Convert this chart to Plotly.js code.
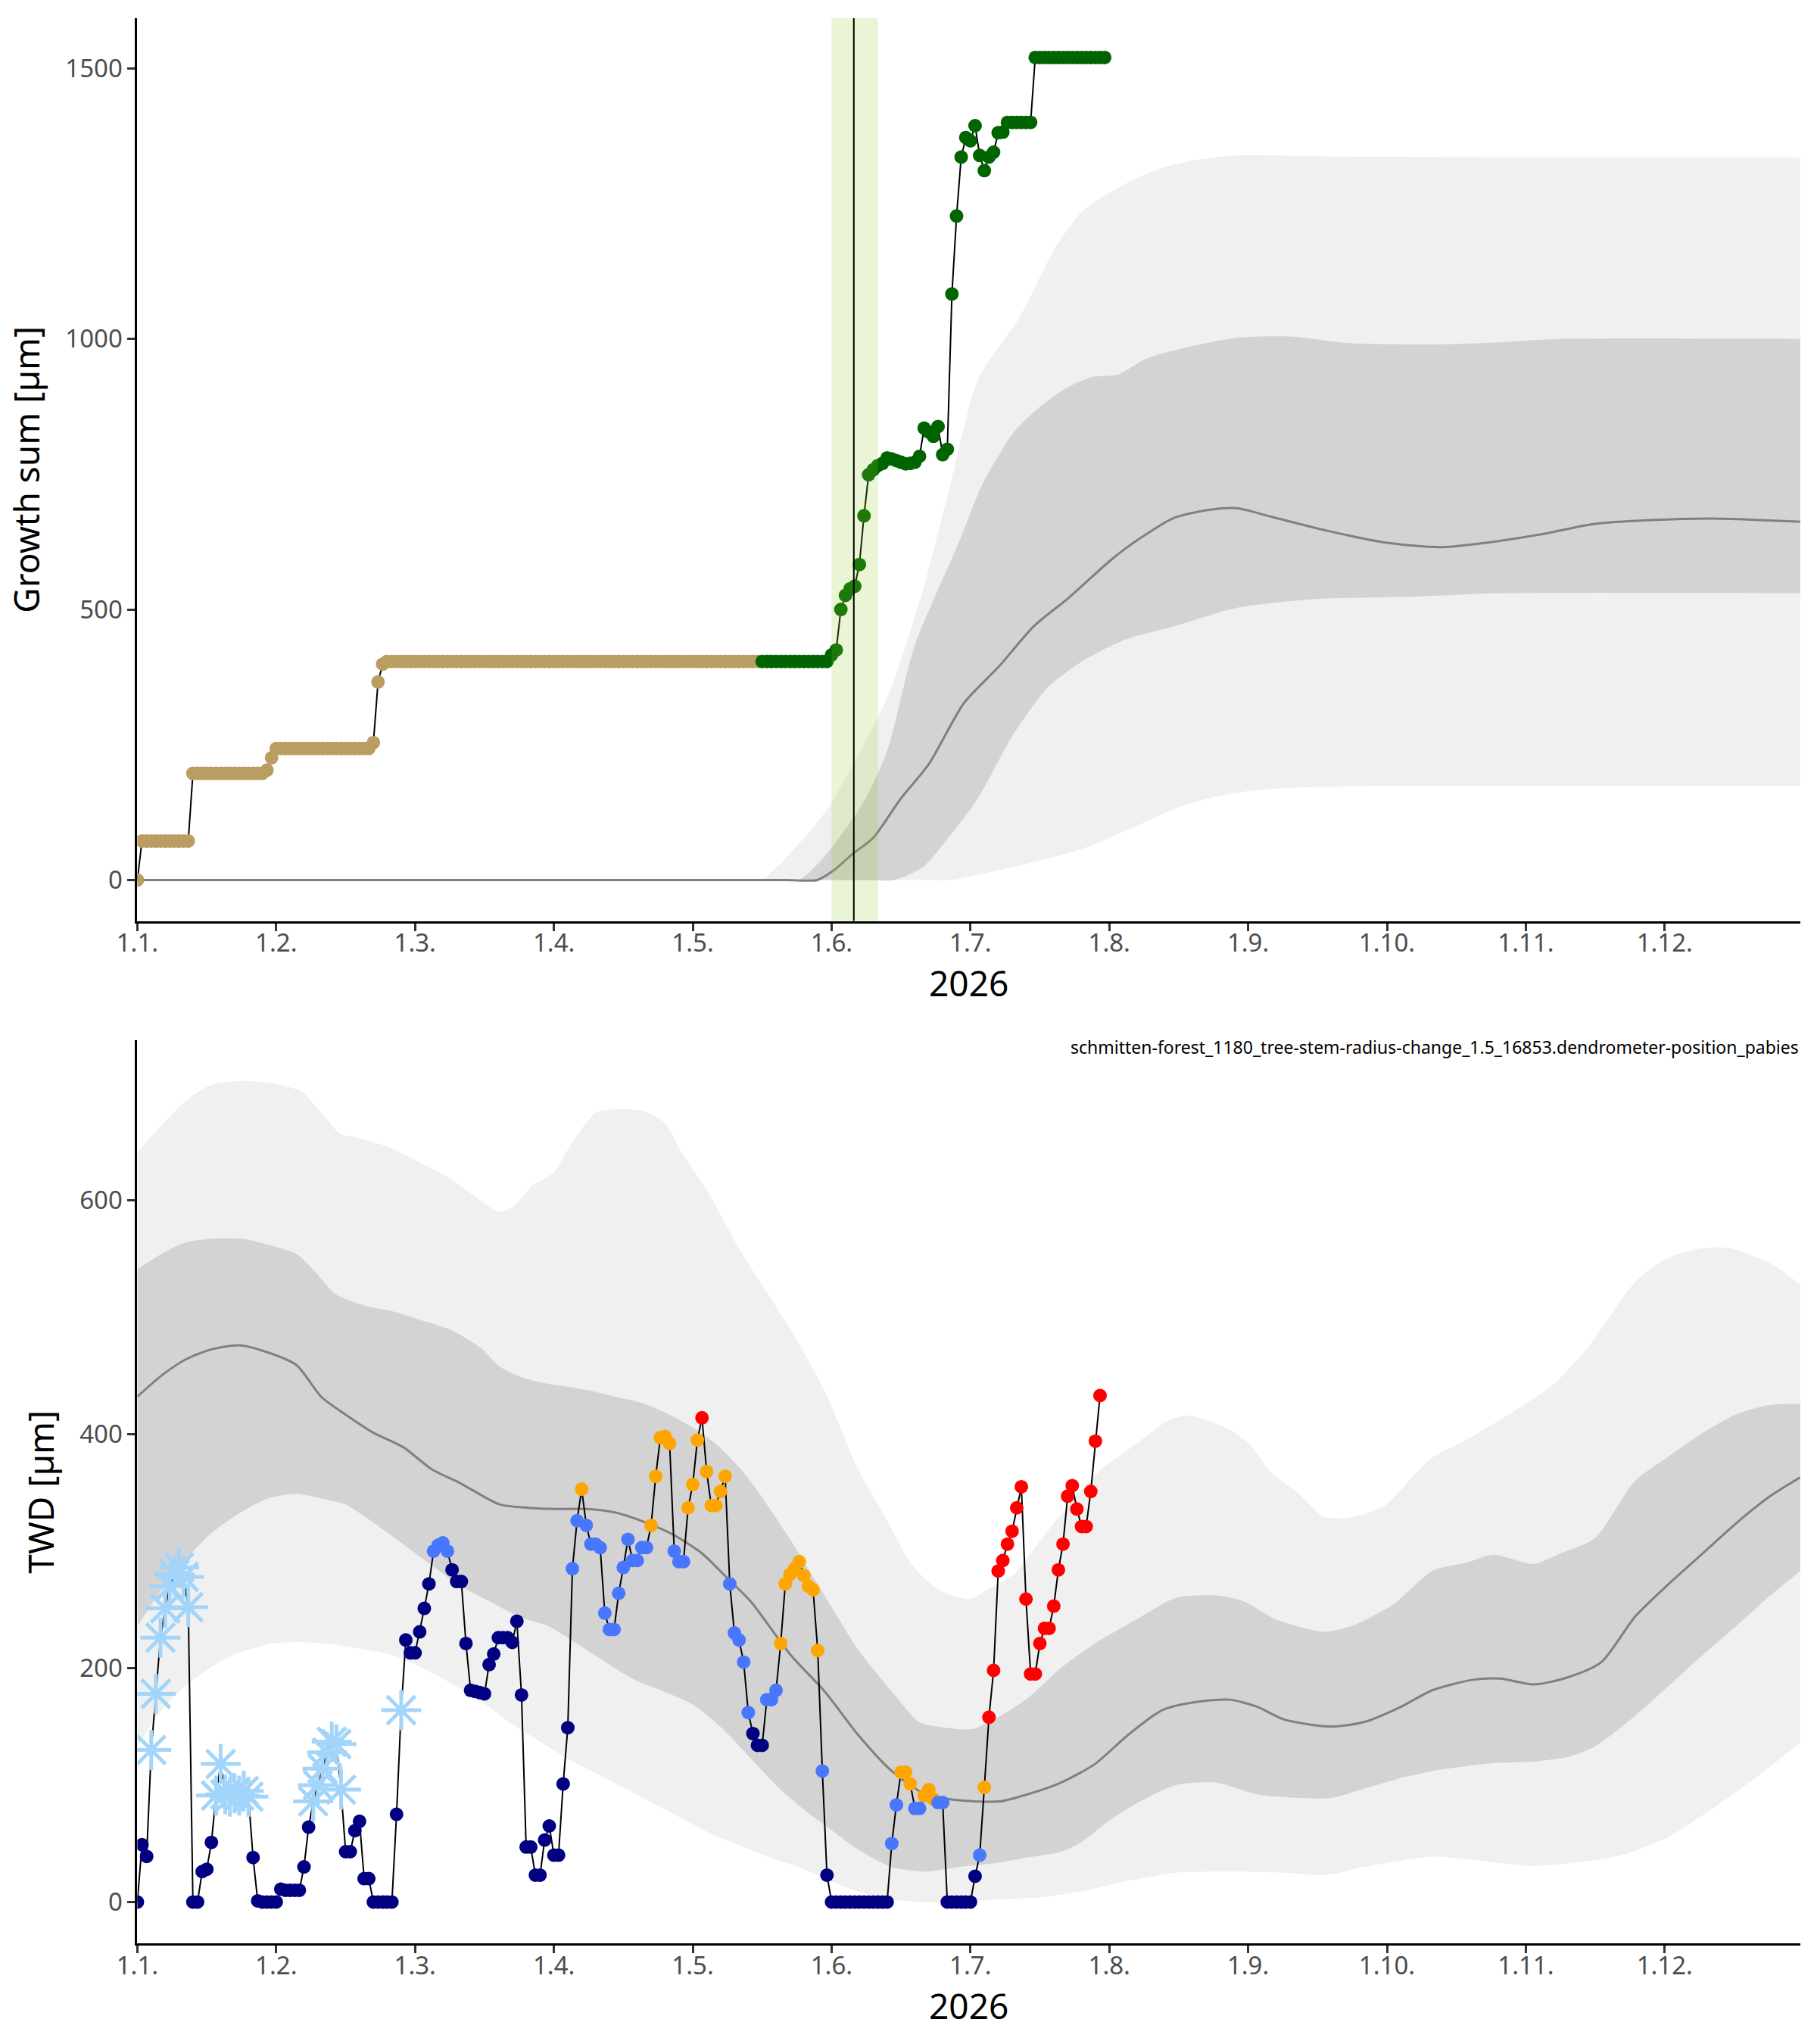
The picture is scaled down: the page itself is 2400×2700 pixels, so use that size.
<!DOCTYPE html>
<html>
<head>
<meta charset="utf-8">
<script src="https://cdn.plot.ly/plotly-3.0.1.min.js"></script>
<style>
  html, body { margin: 0; padding: 0; background: #fff; }
  #chart { width: 2400px; height: 2700px; }
</style>
</head>
<body>
<div id="chart"></div>
<script>
// x is the day of the season, 0 = 1 January; the axis is labelled in 30-day months
var monthTicks = [0, 30, 60, 90, 120, 150, 180, 210, 240, 270, 300, 330];
var monthLabels = ['1.1.', '1.2.', '1.3.', '1.4.', '1.5.', '1.6.', '1.7.', '1.8.', '1.9.', '1.10.', '1.11.', '1.12.'];
var seasonEnd = 359.3;

// growth sum, one value per day from day 0
var growthSum = [
  0, 72, 72, 72, 72, 72, 72, 72, 72, 72, 72, 72, 197, 197, 197, 197, 197, 197, 197, 197,
  197, 197, 197, 197, 197, 197, 197, 197, 203, 226, 243, 243, 243, 243, 243, 243, 243, 243, 243, 243,
  243, 243, 243, 243, 243, 243, 243, 243, 243, 243, 243, 254, 366, 399, 404, 404, 404, 404, 404, 404,
  404, 404, 404, 404, 404, 404, 404, 404, 404, 404, 404, 404, 404, 404, 404, 404, 404, 404, 404, 404,
  404, 404, 404, 404, 404, 404, 404, 404, 404, 404, 404, 404, 404, 404, 404, 404, 404, 404, 404, 404,
  404, 404, 404, 404, 404, 404, 404, 404, 404, 404, 404, 404, 404, 404, 404, 404, 404, 404, 404, 404,
  404, 404, 404, 404, 404, 404, 404, 404, 404, 404, 404, 404, 404, 404, 404, 404, 404, 404, 404, 404,
  404, 404, 404, 404, 404, 404, 404, 404, 404, 404, 416, 425, 500, 526, 538, 543, 583, 673, 749, 758,
  766, 770, 780, 778, 775, 772, 769, 770, 772, 783, 835, 828, 820, 838, 786, 796, 1083, 1227, 1336, 1372,
  1366, 1394, 1339, 1311, 1336, 1345, 1381, 1382, 1400, 1400, 1400, 1400, 1400, 1400, 1520, 1520, 1520, 1520, 1520, 1520,
  1520, 1520, 1520, 1520, 1520, 1520, 1520, 1520, 1520, 1520
];
var growthOnsetDay = 135;   // first day drawn as growing season
var growthPeriod = [150, 160];
var growthPeak = 154.8;

// tree water deficit, one value per day from day 0
var twd = [
  0, 49, 39, 130, 178, 226, 251, 270, 280, 286, 278, 252, 0, 0, 26, 28, 51, 91, 118, 92,
  90, 93, 91, 95, 90, 38, 1, 0, 0, 0, 0, 11, 10, 10, 10, 10, 30, 64, 86, 100,
  114, 128, 137, 135, 96, 43, 43, 61, 69, 20, 20, 0, 0, 0, 0, 0, 75, 164, 224, 213,
  213, 231, 251, 272, 300, 305, 307, 300, 284, 274, 274, 221, 181, 180, 179, 178, 203, 212, 226, 226,
  226, 222, 240, 177, 47, 47, 23, 23, 53, 65, 40, 40, 101, 149, 285, 326, 353, 322, 306, 306,
  303, 247, 233, 233, 264, 286, 310, 292, 292, 303, 303, 322, 364, 397, 398, 392, 300, 291, 291, 337,
  357, 395, 414, 368, 339, 339, 351, 364, 272, 230, 224, 205, 162, 144, 134, 134, 173, 173, 181, 221,
  272, 280, 285, 291, 279, 270, 267, 215, 112, 23, 0, 0, 0, 0, 0, 0, 0, 0, 0, 0,
  0, 0, 0, 50, 83, 111, 111, 101, 80, 80, 91, 96, 88, 85, 85, 0, 0, 0, 0, 0,
  0, 22, 40, 98, 158, 198, 283, 292, 306, 317, 337, 355, 259, 195, 195, 221, 234, 234, 253, 284,
  306, 347, 356, 336, 321, 321, 351, 394, 433
];
// n = low, b = medium, o = high, r = very high, s = frost day
var twdClass = (
  'nnnsssssssssnnnnnsss' + 'sssssnnnnnnnnnnnnnss' + 'sssssnnnnnnnnnnnnsnn' +
  'nnnnbbbbnnnnnnnnnnnn' + 'nnnnnnnnnnnnnnbbobbb' + 'bbbbbbbbbbbooooobbbo' +
  'oorooooobbbbbnnnbbbo' + 'oooooooobnnnnnnnnnnn' + 'nnnbbooobbooobbnnnnn' +
  'nnborrrrrrrrrrrrrrrr' + 'rrrrrrrrr'
).split('');
var twdColors = { n: '#000080', b: '#4876ff', o: '#ffa500', r: '#ff0000' };
var frostColor = '#a3d5fa';

// climatology of growth sum: [day, value]
var gsOuterHigh = [[0, 0], [100, 0], [128, 0], [134.7, 0], [144.5, 82], [149.8, 141], [162, 337], [169.6, 532],
  [175.6, 728], [181.6, 924], [190.7, 1041], [198.3, 1168], [204.3, 1237], [213.4, 1286], [221, 1315],
  [228.5, 1330], [237.5, 1339], [260, 1337], [300, 1335], [359.3, 1335]];
var gsInnerHigh = [[0, 0], [100, 0], [137, 0], [142.9, 0], [148.4, 43], [156.7, 141], [162, 239], [168, 434],
  [177.8, 630], [182.4, 728], [189.2, 826], [193.7, 865], [199.7, 904], [205.9, 929], [211.9, 934],
  [217.9, 963], [225.5, 982], [237.5, 1002], [249.7, 1004], [261.8, 992], [281.4, 990], [295, 994],
  [307.2, 1000], [359.3, 1000]];
var gsMedian = [[0, 0], [100, 0], [140, 0], [146.9, 0], [150.5, 18], [154.5, 48], [158.9, 77], [165, 151],
  [171, 214], [178.6, 327], [186.2, 395], [193.7, 469], [201.3, 522], [210.3, 591], [216.4, 630], [224, 669],
  [231.5, 684], [237.5, 687], [245.1, 671], [257.3, 645], [269.4, 624], [281.4, 615], [292.1, 624],
  [304.1, 640], [314.8, 658], [326.8, 665], [340.4, 668], [359.3, 662]];
var gsInnerLow = [[0, 0], [100, 0], [158, 0], [163.5, 0], [169.6, 23], [175.6, 82], [181.6, 151],
  [189.2, 268], [196.7, 356], [204.3, 405], [213.4, 444], [224, 469], [237.5, 503], [254.2, 519],
  [276.9, 524], [295, 530], [359.3, 530]];
var gsOuterLow = [[0, 0], [100, 0], [170, 0], [175.6, 0], [189.2, 24], [204.3, 58], [216.4, 102],
  [224, 131], [231.5, 151], [240.7, 165], [254.2, 172], [278, 174], [359.3, 174]];

// climatology of TWD: [day, value]
var twdOuterHigh = [[0, 641], [5.2, 664], [10.5, 685], [15.6, 698], [22.9, 702], [30.3, 699], [35.4, 693],
  [39.7, 675], [43.8, 657], [49, 652], [55.2, 644], [61.6, 631], [67.8, 618], [73, 603], [78.2, 590],
  [81.4, 595], [85.5, 613], [89.8, 623], [93.9, 649], [99.1, 675], [104.4, 678], [109.5, 676], [113.7, 667],
  [117.9, 639], [123.1, 608], [130.4, 556], [141.2, 489], [148.5, 437], [155.7, 370], [161.6, 329],
  [167.4, 288], [173.2, 267], [179.8, 259], [183.5, 267], [189.3, 280], [195.1, 309], [202.4, 345],
  [208.3, 370], [215.6, 391], [222.9, 412], [227.3, 416], [236, 404], [240.4, 391], [244.8, 368],
  [250.6, 350], [256.5, 329], [262.3, 329], [269.6, 339], [275.4, 363], [279.8, 380], [287.1, 395],
  [294.4, 412], [300.3, 427], [306.1, 443], [313.4, 474], [323.6, 530], [330.9, 551], [338.2, 559],
  [344.1, 559], [352.8, 546], [359.3, 528]];
var twdInnerHigh = [[0, 541], [5.2, 554], [10.5, 564], [15.6, 567], [22.9, 567], [29.2, 561], [34.4, 554],
  [38.6, 538], [42.7, 520], [49, 510], [55.2, 505], [61.6, 497], [67.8, 489], [74.1, 474], [78.2, 458],
  [83.4, 448], [88.7, 443], [93.9, 440], [99.1, 436], [104.4, 431], [109.5, 426], [114.8, 417], [119.9, 406],
  [125.2, 391], [130.4, 370], [133.9, 352], [141.2, 309], [148.5, 262], [155.7, 216], [163, 180],
  [168.9, 154], [174.7, 149], [180.5, 148], [186.4, 159], [192.3, 174], [199.5, 200], [206.9, 221],
  [215.6, 241], [224.4, 260], [233.1, 262], [239, 257], [246.3, 241], [256.5, 231], [262.4, 236],
  [271.2, 254], [279.8, 283], [287.1, 290], [293, 297], [301.7, 289], [307.5, 298], [314.9, 311],
  [323.6, 360], [330.9, 381], [338.2, 401], [345.5, 417], [352.8, 425], [359.3, 426]];
var twdMedian = [[0, 432], [5.2, 450], [10.5, 464], [15.6, 472], [21.9, 476], [28.1, 470], [34.4, 459],
  [39.7, 432], [44.9, 417], [51.1, 401], [57.4, 389], [63.6, 370], [69.8, 358], [78.2, 340], [84.4, 337],
  [90.7, 336], [97, 336], [103.3, 333], [109.5, 325], [115.8, 314], [122, 298], [127.2, 278], [132.5, 257],
  [141.2, 211], [148.5, 180], [155.7, 143], [163, 112], [170.3, 92], [177.6, 87], [186.4, 86], [192.3, 92],
  [199.5, 102], [206.9, 118], [214.1, 143], [221.4, 164], [228.7, 171], [236, 173], [241.9, 167],
  [247.8, 156], [257.9, 150], [265.2, 154], [272.6, 166], [279.8, 181], [288.6, 190], [294.4, 191],
  [301.7, 186], [309, 192], [316.3, 205], [323.6, 244], [330.9, 272], [338.2, 298], [345.5, 324],
  [352.8, 347], [359.3, 363]];
var twdInnerLow = [[0, 236], [5.2, 267], [10.5, 293], [15.6, 314], [21.9, 332], [28.1, 345], [34.4, 349],
  [39.7, 345], [44.9, 340], [51.1, 324], [57.4, 306], [63.6, 288], [69.8, 270], [76.1, 257], [82.4, 244],
  [88.7, 236], [94.9, 221], [101.2, 205], [107.4, 190], [113.7, 180], [119.9, 169], [126.2, 149],
  [132.5, 123], [138.7, 97], [145, 76], [148.5, 66], [155.7, 45], [163, 30], [170.3, 26], [177.6, 30],
  [184.9, 33], [192.3, 38], [199.5, 43], [203.9, 51], [209.8, 69], [217.1, 87], [224.4, 100], [233.1, 102],
  [241.9, 92], [250.6, 89], [257.9, 89], [265.2, 97], [274, 107], [279.8, 112], [288.6, 117], [294.4, 119],
  [301.7, 120], [309, 124], [314.9, 133], [323.6, 159], [330.9, 185], [338.2, 211], [345.5, 236],
  [352.8, 262], [359.3, 283]];
var twdOuterLow = [[0, 133], [5.2, 164], [10.5, 185], [15.6, 200], [21.9, 213], [29.2, 221], [36.5, 222],
  [42.7, 220], [49, 216], [55.2, 211], [61.6, 200], [67.8, 187], [74.1, 172], [80.3, 154], [86.6, 138],
  [92.8, 123], [99.1, 110], [105.4, 97], [111.7, 84], [117.9, 71], [124.1, 58], [130.4, 48], [136.6, 38],
  [142.9, 30], [148.5, 20], [155.7, 9], [163, 2], [168.9, 0], [177.6, 0], [184.9, 2], [195.1, 4],
  [203.9, 9], [212.7, 17], [224.4, 25], [236, 26], [247.8, 25], [256.5, 23], [265.2, 30], [279.8, 39],
  [288.6, 36], [300.3, 31], [309, 33], [320.7, 40], [330.9, 56], [341.1, 82], [349.9, 107], [359.3, 136]];

var plotTitle = 'schmitten-forest_1180_tree-stem-radius-change_1.5_16853.dendrometer-position_pabies';

// ---------------------------------------------------------------
var FONT = 'Noto Sans';

function curve(pts, xa, ya, extra) {
  var t = {
    x: pts.map(function (p) { return p[0]; }),
    y: pts.map(function (p) { return p[1]; }),
    xaxis: xa, yaxis: ya,
    type: 'scatter', mode: 'lines',
    line: { shape: 'spline', smoothing: 0.7, width: 0, color: 'rgba(0,0,0,0)' },
    hoverinfo: 'skip', showlegend: false
  };
  for (var k in extra) t[k] = extra[k];
  return t;
}

function climatology(outerLow, outerHigh, innerLow, innerHigh, median, xa, ya) {
  return [
    curve(outerLow, xa, ya, {}),
    curve(outerHigh, xa, ya, { fill: 'tonexty', fillcolor: '#f0f0f0' }),
    curve(innerLow, xa, ya, {}),
    curve(innerHigh, xa, ya, { fill: 'tonexty', fillcolor: '#d3d3d3' }),
    curve(median, xa, ya, { line: { shape: 'spline', smoothing: 0.7, width: 3, color: '#808080' } })
  ];
}

var growthDays = growthSum.map(function (v, i) { return i; });
var twdDays = twd.map(function (v, i) { return i; });
var frostDays = twdDays.filter(function (d) { return twdClass[d] === 's'; });
var dotDays = twdDays.filter(function (d) { return twdClass[d] !== 's'; });

var data = [].concat(
  climatology(gsOuterLow, gsOuterHigh, gsInnerLow, gsInnerHigh, gsMedian, 'x', 'y'),
  [{
    x: growthDays, y: growthSum, xaxis: 'x', yaxis: 'y', type: 'scatter', mode: 'lines',
    line: { color: '#000', width: 2 }, hoverinfo: 'skip', showlegend: false
  }, {
    x: growthDays, y: growthSum, xaxis: 'x', yaxis: 'y', type: 'scatter', mode: 'markers',
    marker: {
      size: 18,
      color: growthDays.map(function (d) { return d < growthOnsetDay ? '#b99d61' : '#006400'; })
    },
    showlegend: false
  }],
  climatology(twdOuterLow, twdOuterHigh, twdInnerLow, twdInnerHigh, twdMedian, 'x2', 'y2'),
  [{
    x: twdDays, y: twd, xaxis: 'x2', yaxis: 'y2', type: 'scatter', mode: 'lines',
    line: { color: '#000', width: 2 }, hoverinfo: 'skip', showlegend: false
  }, {
    x: frostDays, y: frostDays.map(function (d) { return twd[d]; }),
    xaxis: 'x2', yaxis: 'y2', type: 'scatter', mode: 'markers',
    marker: { symbol: 'asterisk-open', size: 44, color: frostColor, line: { color: frostColor, width: 5 } },
    showlegend: false
  }, {
    x: dotDays, y: dotDays.map(function (d) { return twd[d]; }),
    xaxis: 'x2', yaxis: 'y2', type: 'scatter', mode: 'markers',
    marker: { size: 18, color: dotDays.map(function (d) { return twdColors[twdClass[d]]; }) },
    showlegend: false
  }]
);

function xAxis(anchor) {
  return {
    anchor: anchor, domain: [0.0756, 0.9908], range: [0, seasonEnd],
    tickvals: monthTicks, ticktext: monthLabels,
    showgrid: false, zeroline: false,
    showline: true, linecolor: '#000', linewidth: 3,
    ticks: 'outside', ticklen: 10, tickwidth: 3, tickcolor: '#333',
    ticklabelstandoff: -12,
    tickfont: { family: FONT, size: 33, color: '#4d4d4d' },
    title: { text: '2026', font: { family: FONT, size: 46, color: '#000' }, standoff: 8 }
  };
}
function yAxis(anchor, domain, range, ticks, title) {
  return {
    anchor: anchor, domain: domain, range: range, tickvals: ticks,
    showgrid: false, zeroline: false,
    showline: true, linecolor: '#000', linewidth: 3,
    ticks: 'outside', ticklen: 10, tickwidth: 3, tickcolor: '#333',
    tickfont: { family: FONT, size: 33, color: '#4d4d4d' },
    title: { text: title, font: { family: FONT, size: 46, color: '#000' }, standoff: 20 }
  };
}

var layout = {
  width: 2400, height: 2700,
  margin: { l: 0, r: 0, t: 0, b: 0 },
  paper_bgcolor: '#fff', plot_bgcolor: '#fff',
  font: { family: FONT },
  showlegend: false,
  xaxis: xAxis('y'),
  yaxis: yAxis('x', [0.5494, 0.9911], [-75.8, 1592.6], [0, 500, 1000, 1500], 'Growth sum [µm]'),
  xaxis2: xAxis('y2'),
  yaxis2: yAxis('x2', [0.0491, 0.4911], [-35.6, 736.8], [0, 200, 400, 600], 'TWD [µm]'),
  shapes: [{
    type: 'rect', xref: 'x', yref: 'y domain', x0: growthPeriod[0], x1: growthPeriod[1], y0: 0, y1: 1,
    fillcolor: 'rgba(150,205,50,0.2)', line: { width: 0 }, layer: 'above'
  }, {
    type: 'line', xref: 'x', yref: 'y domain', x0: growthPeak, x1: growthPeak, y0: 0, y1: 1,
    line: { color: '#000', width: 2 }, layer: 'above'
  }],
  annotations: [{
    text: plotTitle, xref: 'paper', yref: 'paper', x: 0.9908, y: 0.4878,
    xanchor: 'right', yanchor: 'middle', showarrow: false,
    font: { family: FONT, size: 23, color: '#000' }
  }]
};

Plotly.newPlot('chart', data, layout, { staticPlot: true });
</script>
</body>
</html>
